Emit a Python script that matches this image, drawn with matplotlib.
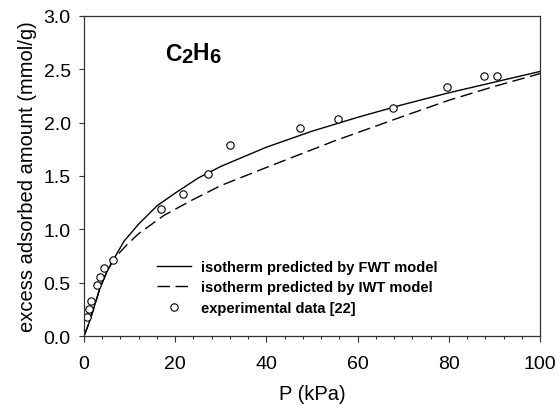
import matplotlib
matplotlib.use("Agg")
import matplotlib.pyplot as plt
from matplotlib.ticker import MultipleLocator, FormatStrFormatter

plt.rcParams['font.family'] = ['Liberation Sans', 'DejaVu Sans']

# Experimental data
p_exp = [0.73, 1.1, 1.5, 2.8, 3.6, 4.3, 6.3, 16.8, 21.8, 27.3, 32.1, 47.4, 55.8, 67.8, 79.6, 87.8, 90.6]
q_exp = [0.18, 0.25, 0.325, 0.48, 0.55, 0.64, 0.71, 1.19, 1.33, 1.52, 1.79, 1.95, 2.03, 2.14, 2.33, 2.44, 2.44]

# FWT model curve
p_fwt = [0, 1, 2, 3.5, 5, 6.5, 8.8, 12, 16, 20, 25, 30, 40, 50, 60, 70, 80, 90, 100]
q_fwt = [0, 0.11, 0.24, 0.45, 0.60, 0.72, 0.89, 1.05, 1.22, 1.34, 1.48, 1.59, 1.77, 1.92, 2.05, 2.17, 2.28, 2.38, 2.48]

# IWT model curve
p_iwt = [0, 1, 2, 3.5, 5, 6.5, 9.5, 12, 17.5, 23.5, 30, 40, 55, 70, 80, 90, 100]
q_iwt = [0, 0.11, 0.24, 0.45, 0.60, 0.72, 0.86, 0.96, 1.13, 1.27, 1.41, 1.58, 1.83, 2.06, 2.21, 2.34, 2.46]

labels = ["isotherm predicted by FWT model",
          "isotherm predicted by IWT model",
          "experimental data [22]"]

fig = plt.figure(figsize=(5.57, 4.06), dpi=100)
ax = fig.add_axes([84/557, 1-337/406, (540-84)/557, (337-17)/406])

ax.plot(p_fwt, q_fwt, color='black', lw=1.0, label=labels[0])
ax.plot(p_iwt, q_iwt, color='black', lw=1.0, dashes=(9, 4), label=labels[1])
ax.plot(p_exp, q_exp, linestyle='none', marker='o', markersize=5.3,
        markerfacecolor='white', markeredgecolor='black', markeredgewidth=0.8,
        label=labels[2])

ax.set_xlim(0, 100)
ax.set_ylim(0, 3.0)
ax.xaxis.set_major_locator(MultipleLocator(20))
ax.xaxis.set_minor_locator(MultipleLocator(4))
ax.yaxis.set_major_locator(MultipleLocator(0.5))
ax.yaxis.set_major_formatter(FormatStrFormatter('%.1f'))

for s in ax.spines.values():
    s.set_color('#333333')
    s.set_linewidth(0.9)

ax.tick_params(axis='x', which='major', direction='out', length=4, width=0.8,
               pad=10, labelsize=14, color='#333333')
ax.tick_params(axis='x', which='minor', direction='out', length=2.5, width=0.8,
               color='#333333')
ax.tick_params(axis='y', which='major', direction='out', length=3.5, width=0.8,
               pad=6, labelsize=14, color='#333333')

ax.set_xlabel("P (kPa)", fontsize=14.5, labelpad=8)
ax.set_ylabel("excess adsorbed amount (mmol/g)", fontsize=14.5, labelpad=5)

# Title C2H6 with large subscripts
t1 = ax.text(17.8, 2.587, "C", fontsize=16.5, fontweight='bold', ha='left', va='baseline')
t2 = ax.annotate("2", xy=(1, 0), xycoords=t1, xytext=(0, -1), textcoords='offset points',
                 fontsize=14.5, fontweight='bold', ha='left', va='bottom')
t3 = ax.annotate("H", xy=(1, 0), xycoords=t2, xytext=(0, 1.4), textcoords='offset points',
                 fontsize=16.5, fontweight='bold', ha='left', va='bottom')
t4 = ax.annotate("6", xy=(1, 0), xycoords=t3, xytext=(0, -1.4), textcoords='offset points',
                 fontsize=14.5, fontweight='bold', ha='left', va='bottom')

leg = ax.legend(loc='upper left', bbox_to_anchor=(0.160, 0.238), frameon=False,
                prop={'weight': 'bold', 'size': 10.5}, handlelength=2.3,
                handletextpad=0.75, labelspacing=0.45, borderaxespad=0, borderpad=0)

fig.savefig("out.png", dpi=100)
